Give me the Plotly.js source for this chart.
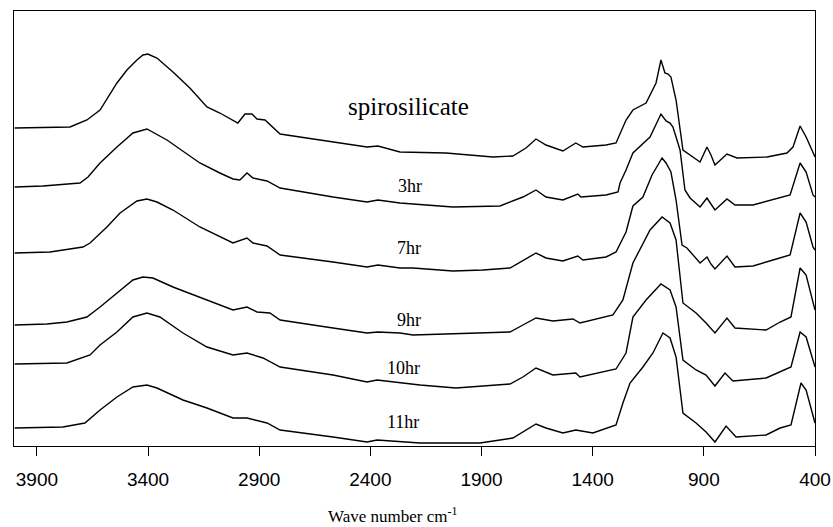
<!DOCTYPE html>
<html>
<head>
<meta charset="utf-8">
<script src="https://cdn.plot.ly/plotly-3.0.1.min.js"></script>
<style>html,body{margin:0;padding:0;background:#fff;}#chart{width:833px;height:527px;}</style>
</head>
<body>
<div id="chart"></div>
<script>
// Wavenumbers (cm-1) and stacked absorbance (arbitrary units)
var spiroX = [4000,3751,3675,3616,3540,3495,3450,3423,3401,3360,3288,3212,3135,3077,2996,2964,2933,2910,2874,2806,2717,2568,2415,2366,2267,2060,1849,1759,1700,1655,1610,1534,1476,1444,1340,1295,1250,1219,1160,1115,1093,1075,1061,1048,1025,994,962,917,886,868,850,796,751,616,526,499,467,440,400];
var spiroY = [3.18,3.19,3.26,3.36,3.63,3.76,3.86,3.91,3.92,3.88,3.74,3.58,3.39,3.33,3.23,3.32,3.32,3.27,3.26,3.12,3.09,3.04,2.99,3.00,2.94,2.93,2.89,2.90,2.98,3.07,3.01,2.95,3.03,2.99,3.01,3.03,3.26,3.36,3.43,3.63,3.86,3.73,3.72,3.69,3.46,2.96,2.91,2.84,2.99,2.91,2.81,2.92,2.88,2.89,2.93,2.99,3.20,3.09,2.89];

var hr3X = [4000,3873,3706,3670,3616,3540,3468,3405,3315,3167,3077,3018,2987,2955,2928,2865,2806,2568,2415,2366,2267,2029,1817,1714,1655,1610,1534,1467,1453,1340,1286,1277,1250,1219,1142,1093,1070,1052,1039,1007,985,962,917,886,868,850,796,760,679,589,512,467,440,409,400];
var hr3Y = [2.59,2.60,2.63,2.69,2.83,2.99,3.13,3.17,3.06,2.83,2.73,2.67,2.66,2.73,2.68,2.65,2.58,2.49,2.44,2.46,2.43,2.39,2.40,2.49,2.56,2.49,2.46,2.52,2.49,2.51,2.54,2.63,2.76,2.93,3.09,3.32,3.25,3.23,3.19,2.96,2.56,2.48,2.39,2.48,2.42,2.36,2.47,2.41,2.41,2.46,2.51,2.83,2.74,2.51,2.49];

var hr7X = [4000,3841,3693,3661,3585,3526,3450,3405,3360,3288,3167,3018,2955,2928,2865,2806,2568,2415,2366,2267,2208,2029,1894,1772,1655,1610,1534,1467,1444,1340,1295,1250,1219,1174,1133,1088,1070,1048,1025,998,976,917,886,868,850,796,760,679,589,512,467,440,409,400];
var hr7Y = [1.93,1.94,1.99,2.03,2.19,2.33,2.45,2.47,2.44,2.36,2.19,2.03,2.08,2.03,2.00,1.91,1.84,1.79,1.81,1.78,1.78,1.75,1.76,1.78,1.93,1.88,1.85,1.90,1.86,1.89,1.94,2.14,2.40,2.49,2.71,2.88,2.83,2.74,2.46,2.01,1.98,1.83,1.89,1.82,1.77,1.90,1.79,1.80,1.86,1.91,2.33,2.24,1.99,1.96];

var hr9X = [4000,3855,3765,3675,3616,3540,3468,3423,3378,3288,3167,3018,2955,2910,2852,2806,2568,2415,2366,2267,2208,1772,1714,1655,1579,1489,1457,1367,1309,1264,1219,1142,1088,1052,1025,994,935,890,850,796,760,620,557,508,467,440,400];
var hr9Y = [1.21,1.22,1.24,1.29,1.39,1.53,1.66,1.69,1.68,1.59,1.49,1.36,1.39,1.34,1.33,1.26,1.18,1.13,1.14,1.13,1.11,1.14,1.21,1.28,1.25,1.27,1.23,1.28,1.31,1.46,1.83,2.16,2.29,2.23,2.06,1.43,1.33,1.23,1.13,1.28,1.18,1.16,1.24,1.29,1.78,1.71,1.36];

var hr10X = [4000,3765,3661,3616,3540,3468,3405,3347,3243,3135,3018,2955,2883,2806,2568,2415,2370,2267,2177,2015,1772,1714,1655,1579,1476,1457,1295,1250,1219,1160,1093,1052,1025,994,935,890,850,805,769,620,557,508,467,440,400];
var hr10Y = [0.82,0.83,0.91,1.01,1.14,1.29,1.33,1.29,1.13,0.99,0.91,0.93,0.88,0.79,0.71,0.64,0.66,0.63,0.61,0.58,0.62,0.69,0.78,0.71,0.73,0.69,0.77,0.93,1.29,1.46,1.62,1.56,1.39,0.86,0.76,0.71,0.60,0.73,0.65,0.68,0.74,0.79,1.14,1.09,0.79];

var hr11X = [4000,3783,3684,3616,3540,3468,3405,3360,3243,3135,3018,2955,2865,2806,2568,2415,2370,2177,2015,1907,1759,1700,1655,1610,1534,1476,1399,1295,1264,1232,1174,1129,1084,1052,1025,994,935,890,850,800,755,620,557,508,463,440,400];
var hr11Y = [0.18,0.19,0.23,0.36,0.49,0.59,0.61,0.58,0.46,0.38,0.28,0.28,0.23,0.16,0.09,0.04,0.06,0.03,0.03,0.03,0.08,0.16,0.22,0.18,0.13,0.16,0.13,0.21,0.43,0.63,0.79,0.93,1.13,1.08,0.89,0.33,0.23,0.14,0.04,0.20,0.09,0.11,0.18,0.21,0.63,0.56,0.23];

var seriesNames = ['spirosilicate','3hr','7hr','9hr','10hr','11hr'];
var seriesX = [spiroX, hr3X, hr7X, hr9X, hr10X, hr11X];
var seriesY = [spiroY, hr3Y, hr7Y, hr9Y, hr10Y, hr11Y];

var tickVals = [3900,3400,2900,2400,1900,1400,900,400];
var tickText = ['3900','3400','2900','2400','1900','1400','900','400'];

// label anchor positions (wavenumber, absorbance)
var labelX = [2227, 2222, 2227, 2227, 2253, 2253];
var labelY = [3.40, 2.60, 1.98, 1.26, 0.78, 0.24];

var serif = 'Liberation Serif, Times New Roman, serif';

var traces = seriesNames.map(function(n, i){
  return {x: seriesX[i], y: seriesY[i], type: 'scatter', mode: 'lines', name: n,
          line: {color: '#000', width: 1.4}, showlegend: false, hoverinfo: 'skip'};
});

var annotations = seriesNames.map(function(n, i){
  return {x: labelX[i], y: labelY[i], xref: 'x', yref: 'y', text: n, showarrow: false,
          font: {family: serif, size: i === 0 ? 25 : 18, color: '#000'}};
});
annotations.push({x: 0.473, y: -0.159, xref: 'paper', yref: 'paper', xanchor: 'center', yanchor: 'middle',
  showarrow: false, text: 'Wave number cm<sup>-1</sup>', font: {family: serif, size: 17, color: '#000'}});

var layout = {
  width: 833, height: 527,
  margin: {l: 14, r: 18, t: 11, b: 81},
  paper_bgcolor: '#fff', plot_bgcolor: '#fff',
  showlegend: false,
  xaxis: {
    range: [4003, 400], tickvals: tickVals, ticktext: tickText,
    ticks: 'outside', ticklen: 9, tickwidth: 1, tickcolor: '#000',
    showline: true, linecolor: '#000', linewidth: 1, mirror: true,
    showgrid: false, zeroline: false, ticklabelstandoff: 7,
    tickfont: {family: 'Liberation Sans, Arial, sans-serif', size: 19, color: '#000'}
  },
  yaxis: {
    range: [0, 4.35], showticklabels: false, ticks: '',
    showline: true, linecolor: '#000', linewidth: 1, mirror: true,
    showgrid: false, zeroline: false
  },
  annotations: annotations
};

Plotly.newPlot('chart', traces, layout, {staticPlot: true, displayModeBar: false});
</script>
</body>
</html>
